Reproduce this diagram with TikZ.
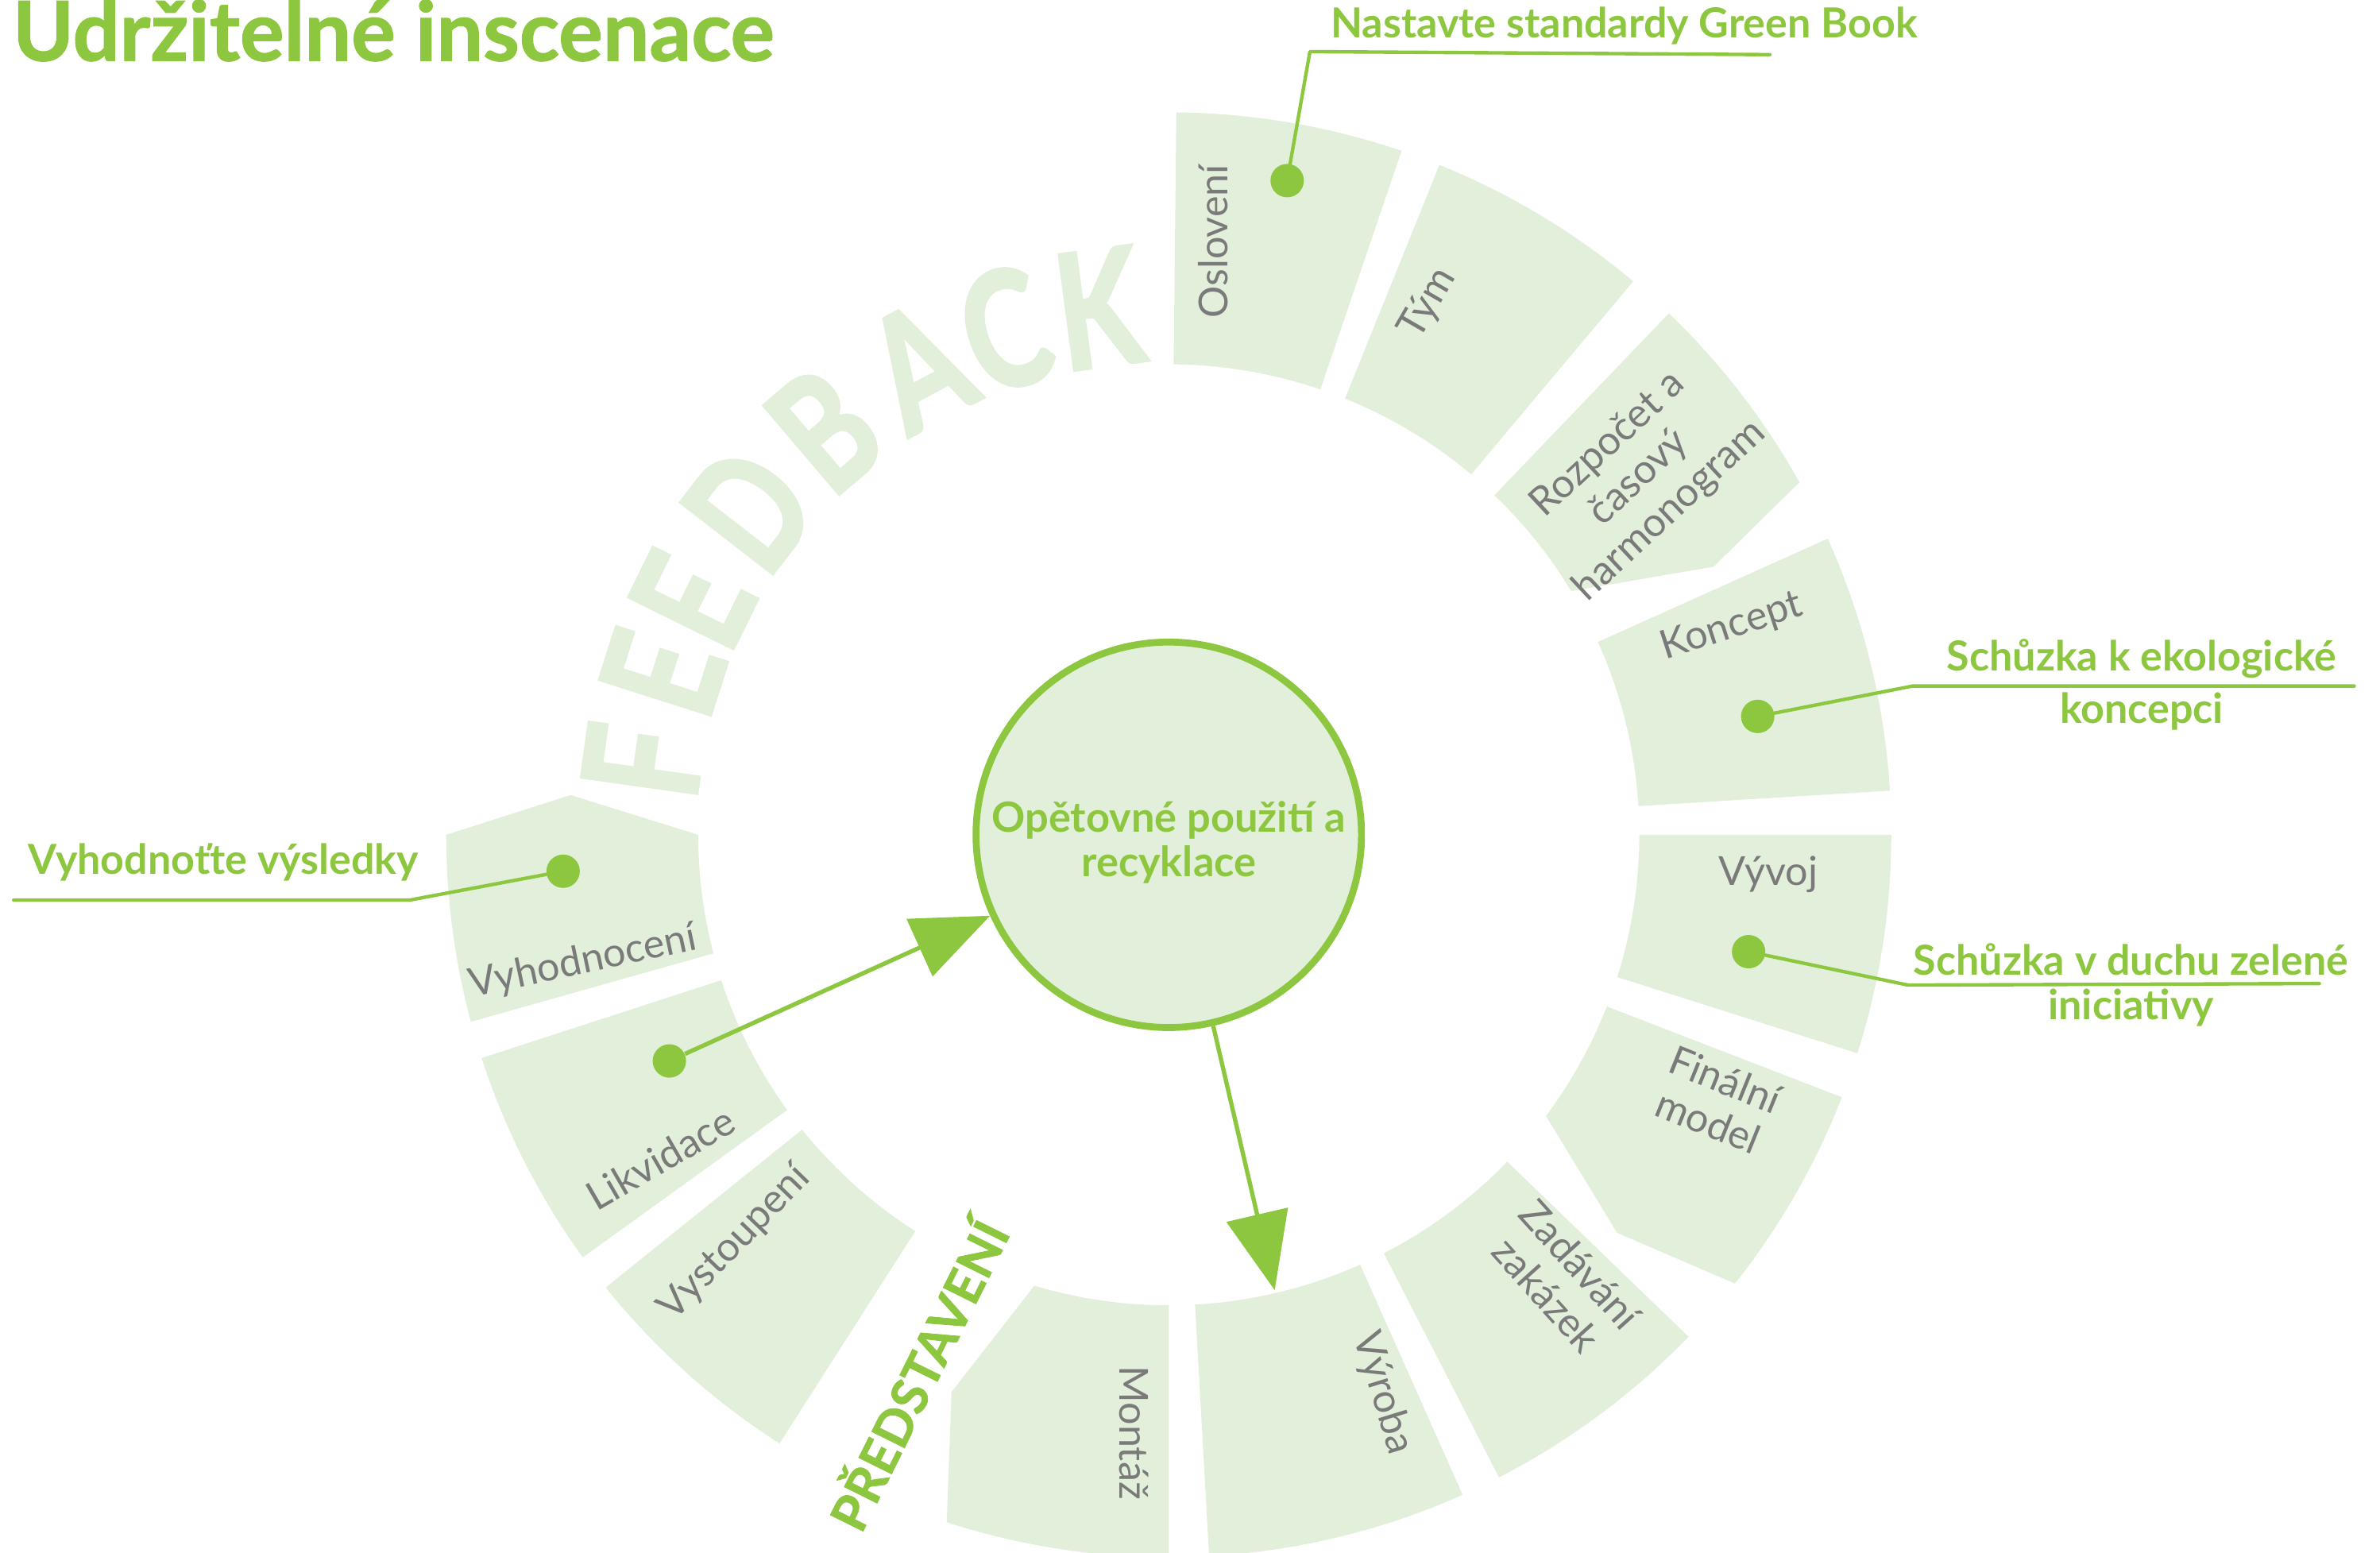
\documentclass[tikz,border=0pt]{standalone}
\usepackage{fontspec}
\setmainfont{Lato}
\newfontfamily\heavyfont{Lato}[BoldFeatures={FakeBold=2.5}]
\newfontfamily\titlefont{Lato}[BoldFeatures={FakeBold=1.2}]
\usetikzlibrary{arrows.meta}
\definecolor{leaf}{HTML}{8DC63F}
\definecolor{mint}{HTML}{E2EFDA}
\definecolor{stone}{HTML}{7A7A7A}

\begin{document}
\begin{tikzpicture}[x=0.02cm, y=0.02cm,
    seg/.style={fill=mint},
    seglabel/.style={text=stone, font=\fontsize{15}{17}\selectfont, align=center, inner sep=0pt},
    fbletter/.style={text=mint, font=\heavyfont\bfseries\fontsize{60}{60}\selectfont, inner sep=0pt},
    dot/.style={circle, fill=leaf, inner sep=0pt, minimum size=0.44cm},
    callout/.style={draw=leaf, line width=1.3pt, line join=round, line cap=round},
    calltext/.style={text=leaf, font=\bfseries\fontsize{15.5}{19.5}\selectfont, align=center, inner sep=0pt},
    flow/.style={draw=leaf, line width=1.6pt, -{Triangle[length=1.02cm, width=0.82cm]}}]

  % Variables
  \def \ri {310}
  \def \ro {476}

  \useasboundingbox (0,0) rectangle (1568,-1023);

  % Title
  \node[anchor=base west, text=leaf, font=\titlefont\bfseries\fontsize{31}{31}\selectfont, inner sep=0pt] (title) at (8,-40) {Udržitelné inscenace};

  % Ring segments
  \begin{scope}[shift={(770,-550)}]
    \foreach \s/\e in {89.4/71.2, 68/50, 24.2/3.5, 0/-17.6, -44/-62.8, -66/-86.8, -122.6/-141.2, -144.2/-162}
      \fill[seg] (\s:\ri) arc[start angle=\s, end angle=\e, radius=\ri] -- (\e:\ro) arc[start angle=\e, end angle=\s, radius=\ro] -- cycle;

    % Segments with a pointed side
    \fill[seg] (46.2:\ri) arc[start angle=46.2, end angle=31.2, radius=\ri] -- (26.2:400) -- (29.2:\ro) arc[start angle=29.2, end angle=46.2, radius=\ro] -- cycle;
    \fill[seg] (-21.4:\ri) arc[start angle=-21.4, end angle=-36.7, radius=\ri] -- (-41.6:395) -- (-38.4:\ro) arc[start angle=-38.4, end angle=-21.3, radius=\ro] -- cycle;
    \fill[seg] (-90:\ri) arc[start angle=-90, end angle=-106.6, radius=\ri] -- (-111.3:394) -- (-107.9:\ro) arc[start angle=-107.9, end angle=-90, radius=\ro] -- cycle;
    \fill[seg] (194.6:\ri) arc[start angle=194.6, end angle=180, radius=\ri] -- (176.2:395) -- (180:\ro) arc[start angle=180, end angle=195, radius=\ro] -- cycle;

    % FEEDBACK along the ring
    \foreach \ch/\ang [count=\i] in {F/172, E/162.3, E/153.8, D/142.2, B/130.4, A/118.1, C/108, K/97.6}
      \node[fbletter, rotate=\ang-90, xscale=0.76] (fb\i) at (\ang:350) {\ch};

    \coordinate (vyrIn) at (-76.9:308);
  \end{scope}

  % Segment labels
  \node[seglabel, rotate=90] (oslo) at (799,-159) {Oslovení};
  \node[seglabel, rotate=60] (tym) at (941,-200) {Tým};
  \node[seglabel, rotate=43] (rozp) at (1080,-315) {Rozpočet a\\časový\\harmonogram};
  \node[seglabel, rotate=18] (konc) at (1141,-413) {Koncept};
  \node[seglabel] (vyvoj) at (1165,-576) {Vývoj};
  \node[seglabel, rotate=-22] (final) at (1131,-725) {Finální\\model};
  \node[seglabel, rotate=-48] (zadav) at (1030,-843) {Zadávání\\zakázek};
  \node[seglabel, rotate=-73] (vyroba) at (911,-918) {Výroba};
  \node[seglabel, rotate=-90] (montaz) at (747,-944) {Montáž};
  \node[seglabel, rotate=46] (vystup) at (484,-819) {Vystoupení};
  \node[seglabel, rotate=30] (likv) at (435,-763) {Likvidace};
  \node[seglabel, rotate=12] (vyhod) at (384,-634) {Vyhodnocení};

  \node[text=leaf, font=\titlefont\bfseries\fontsize{19}{19}\selectfont, rotate=63.6, inner sep=0pt] (show) at (603,-905) {PŘEDSTAVENÍ};

  % Centre
  \node[circle, draw=leaf, line width=2.6pt, fill=mint, minimum size=5.08cm, inner sep=0pt] (hub) at (770,-550) {};
  \node[text=leaf, font=\bfseries\fontsize{15.6}{16.5}\selectfont, align=center, inner sep=0pt] (hubtext) at (770,-555) {Opětovné použití a\\recyklace};

  % Dots
  \node[dot] (dOslo) at (848,-119) {};
  \node[dot] (dKonc) at (1158,-472) {};
  \node[dot] (dVyvoj) at (1152,-627) {};
  \node[dot] (dVyhod) at (371,-574) {};
  \node[dot] (dLikv) at (441,-699) {};

  % Callouts
  \coordinate (bOslo) at (863,-34);
  \coordinate (eOslo) at (1166,-36);
  \draw[callout] (dOslo) -- (bOslo) -- (eOslo);
  \node[calltext, anchor=base] (tOslo) at (1070,-25) {Nastavte standardy Green Book};

  \coordinate (bKonc) at (1260,-452);
  \coordinate (eKonc) at (1551,-452);
  \draw[callout] (dKonc) -- (bKonc) -- (eKonc);
  \node[calltext] (tKonc) at (1411,-451) {Schůzka k ekologické\\koncepci};

  \coordinate (bVyvoj) at (1257,-649);
  \coordinate (eVyvoj) at (1528,-648);
  \draw[callout] (dVyvoj) -- (bVyvoj) -- (eVyvoj);
  \node[calltext, font=\bfseries\fontsize{15.5}{16.5}\selectfont] (tVyvoj) at (1404,-649) {Schůzka v duchu zelené\\iniciativy};

  \coordinate (bVyhod) at (270,-593);
  \coordinate (eVyhod) at (9,-593);
  \draw[callout] (dVyhod) -- (bVyhod) -- (eVyhod);
  \node[calltext, anchor=base] (tVyhod) at (147,-576) {Vyhodnoťte výsledky};

  % Arrows
  \draw[flow] (dLikv) -- (hub);
  \draw[flow] (hub) -- (vyrIn);

\end{tikzpicture}
\end{document}
